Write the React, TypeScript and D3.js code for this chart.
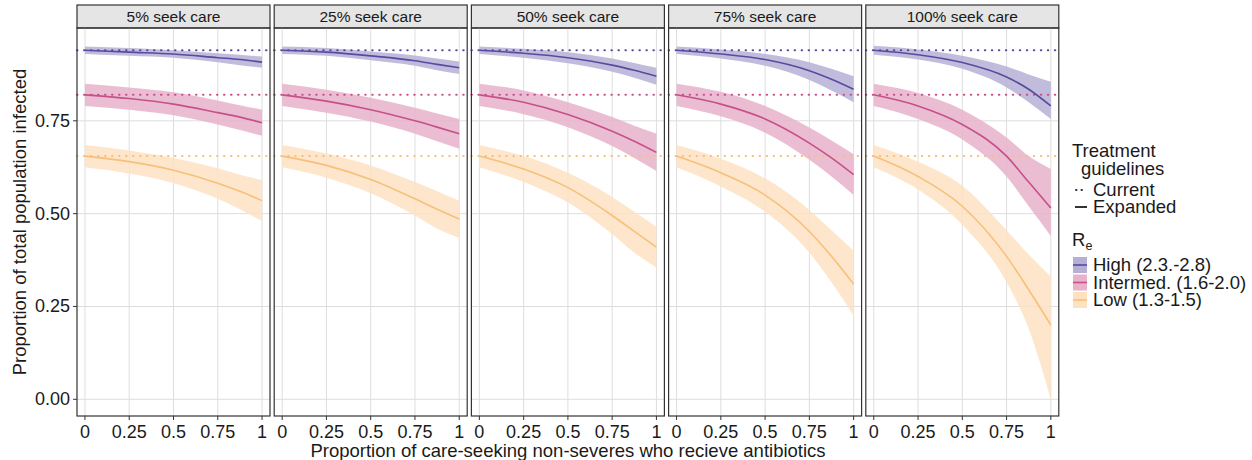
import * as React from 'react';
import * as d3 from 'd3';

const panels = ['5% seek care', '25% seek care', '50% seek care', '75% seek care', '100% seek care'];
const xs = [0, 0.25, 0.5, 0.75, 0.875, 1];
const seriesNames = ['High (2.3.-2.8)', 'Intermed. (1.6-2.0)', 'Low (1.3-1.5)'];
const lineColors = ['#5a4a9f', '#c7508a', '#f7c07a'];
const bandColors = ['#b6b0d6', '#e8b2ca', '#fde2c2'];
const currentValues = [0.94, 0.82, 0.655];

// mean per panel, per series
const meanHigh = [
  [0.94, 0.935, 0.93, 0.92, 0.915, 0.908],
  [0.94, 0.935, 0.925, 0.912, 0.902, 0.893],
  [0.94, 0.932, 0.92, 0.9, 0.886, 0.87],
  [0.94, 0.93, 0.915, 0.885, 0.862, 0.835],
  [0.94, 0.928, 0.907, 0.868, 0.835, 0.79],
];
const meanMid = [
  [0.82, 0.81, 0.795, 0.772, 0.76, 0.745],
  [0.82, 0.803, 0.78, 0.75, 0.733, 0.715],
  [0.82, 0.8, 0.767, 0.722, 0.695, 0.665],
  [0.82, 0.795, 0.755, 0.69, 0.65, 0.605],
  [0.82, 0.79, 0.74, 0.655, 0.585, 0.515],
];
const meanLow = [
  [0.655, 0.64, 0.617, 0.582, 0.56, 0.535],
  [0.655, 0.63, 0.592, 0.54, 0.512, 0.485],
  [0.655, 0.62, 0.57, 0.495, 0.452, 0.41],
  [0.655, 0.61, 0.55, 0.452, 0.385, 0.31],
  [0.655, 0.6, 0.52, 0.385, 0.295, 0.2],
];
// band lower / upper
const loHigh = [
  [0.93, 0.925, 0.92, 0.908, 0.9, 0.893],
  [0.93, 0.925, 0.913, 0.898, 0.886, 0.876],
  [0.93, 0.92, 0.905, 0.882, 0.866, 0.847],
  [0.93, 0.918, 0.898, 0.86, 0.832, 0.8],
  [0.928, 0.915, 0.89, 0.84, 0.8, 0.755],
];
const hiHigh = [
  [0.95, 0.946, 0.94, 0.932, 0.928, 0.923],
  [0.95, 0.946, 0.937, 0.926, 0.918, 0.91],
  [0.95, 0.944, 0.935, 0.918, 0.906, 0.893],
  [0.95, 0.942, 0.93, 0.908, 0.89, 0.87],
  [0.952, 0.942, 0.925, 0.896, 0.875, 0.855],
];
const loMid = [
  [0.79, 0.78, 0.765, 0.74, 0.725, 0.71],
  [0.79, 0.772, 0.748, 0.715, 0.695, 0.675],
  [0.79, 0.768, 0.733, 0.682, 0.65, 0.615],
  [0.79, 0.762, 0.718, 0.645, 0.6, 0.55],
  [0.79, 0.755, 0.7, 0.6, 0.52, 0.44],
];
const hiMid = [
  [0.85, 0.84, 0.827, 0.805, 0.792, 0.78],
  [0.85, 0.834, 0.812, 0.785, 0.77, 0.755],
  [0.85, 0.832, 0.8, 0.76, 0.737, 0.715],
  [0.85, 0.828, 0.79, 0.732, 0.697, 0.66],
  [0.85, 0.825, 0.78, 0.705, 0.655, 0.62],
];
const loLow = [
  [0.625, 0.608, 0.582, 0.54, 0.512, 0.48],
  [0.625, 0.597, 0.555, 0.495, 0.46, 0.435],
  [0.625, 0.585, 0.53, 0.445, 0.395, 0.355],
  [0.625, 0.573, 0.505, 0.395, 0.315, 0.225],
  [0.625, 0.565, 0.47, 0.315, 0.19, 0.0],
];
const hiLow = [
  [0.685, 0.67, 0.65, 0.622, 0.605, 0.59],
  [0.685, 0.662, 0.63, 0.585, 0.56, 0.535],
  [0.685, 0.655, 0.61, 0.545, 0.505, 0.465],
  [0.685, 0.648, 0.595, 0.51, 0.455, 0.4],
  [0.685, 0.64, 0.575, 0.455, 0.39, 0.33],
];

const xTicks = [0, 0.25, 0.5, 0.75, 1];
const xTickLabels = ['0', '0.25', '0.5', '0.75', '1'];
const yTicks = [0, 0.25, 0.5, 0.75];
const yTickLabels = ['0.00', '0.25', '0.50', '0.75'];

const W = 1252;
const H = 460;
const font = 'Liberation Sans, Arial, sans-serif';

export default function App() {
  const panelLeft0 = 77;
  const panelW = 193;
  const panelGap = 4.2;
  const stripTop = 5;
  const stripH = 23;
  const plotTop = stripTop + stripH;
  const plotBottom = 416;

  const y = d3.scaleLinear().domain([-0.045, 1.0]).range([plotBottom, plotTop]);
  const means = [meanHigh, meanMid, meanLow];
  const los = [loHigh, loMid, loLow];
  const his = [hiHigh, hiMid, hiLow];

  return (
    <svg width={W} height={H} style={{ display: 'block', position: 'absolute', left: 0, top: 0 }} fontFamily={font}>
      <rect width={W} height={H} fill="#fff" />
      {panels.map((p, pi) => {
        const left = panelLeft0 + pi * (panelW + panelGap);
        const x = d3.scaleLinear().domain([-0.045, 1.045]).range([left, left + panelW]);
        const area = d3
          .area<number>()
          .x((_, i) => x(xs[i]))
          .curve(d3.curveMonotoneX);
        const line = d3
          .line<number>()
          .x((_, i) => x(xs[i]))
          .y((d) => y(d))
          .curve(d3.curveMonotoneX);
        return (
          <g key={p}>
            <rect x={left} y={stripTop} width={panelW} height={stripH} fill="#e5e5e5" stroke="#333" strokeWidth={1.2} />
            <text x={left + panelW / 2} y={stripTop + stripH / 2 + 5.5} textAnchor="middle" fontSize={15.5} fill="#1a1a1a">
              {p}
            </text>
            {xTicks.map((t) => (
              <line key={'gx' + t} x1={x(t)} x2={x(t)} y1={plotTop} y2={plotBottom} stroke="#dedede" strokeWidth={1} />
            ))}
            {yTicks.map((t) => (
              <line key={'gy' + t} x1={left} x2={left + panelW} y1={y(t)} y2={y(t)} stroke="#dedede" strokeWidth={1} />
            ))}
            {[2, 1, 0].map((si) => (
              <path
                key={'b' + si}
                d={area.y0((_, i) => y(los[si][pi][i])).y1((_, i) => y(his[si][pi][i]))(xs) || ''}
                fill={bandColors[si]}
                opacity={0.85}
              />
            ))}
            {[0, 1, 2].map((si) => (
              <line
                key={'c' + si}
                x1={left}
                x2={left + panelW}
                y1={y(currentValues[si])}
                y2={y(currentValues[si])}
                stroke={lineColors[si]}
                strokeWidth={2}
                strokeDasharray="0.5 6.5"
                strokeLinecap="round"
              />
            ))}
            {[0, 1, 2].map((si) => (
              <path key={'l' + si} d={line(means[si][pi]) || ''} fill="none" stroke={lineColors[si]} strokeWidth={1.6} />
            ))}
            <rect x={left} y={plotTop} width={panelW} height={plotBottom - plotTop} fill="none" stroke="#333" strokeWidth={1.2} />
            {xTicks.map((t, i) => (
              <g key={'xt' + t}>
                <line x1={x(t)} x2={x(t)} y1={plotBottom} y2={plotBottom + 4} stroke="#333" />
                <text x={x(t)} y={plotBottom + 22} textAnchor="middle" fontSize={18} fill="#1a1a1a">
                  {xTickLabels[i]}
                </text>
              </g>
            ))}
          </g>
        );
      })}
      {yTicks.map((t, i) => (
        <g key={'yt' + t}>
          <line x1={panelLeft0 - 4} x2={panelLeft0} y1={y(t)} y2={y(t)} stroke="#333" />
          <text x={panelLeft0 - 7} y={y(t) + 6} textAnchor="end" fontSize={18} fill="#1a1a1a">
            {yTickLabels[i]}
          </text>
        </g>
      ))}
      <text x={568} y={457} textAnchor="middle" fontSize={18.5} fill="#1a1a1a">
        Proportion of care-seeking non-severes who recieve antibiotics
      </text>
      <text transform={`translate(26,${(plotTop + plotBottom) / 2}) rotate(-90)`} textAnchor="middle" fontSize={18.5} fill="#1a1a1a">
        Proportion of total population infected
      </text>
      {/* legend */}
      <g fontSize={18.5} fill="#1a1a1a">
        <text x={1072} y={157}>Treatment</text>
        <text x={1081} y={175}>guidelines</text>
        <line x1={1076} x2={1086} y1={190} y2={190} stroke="#333" strokeWidth={2} strokeDasharray="0.5 5" strokeLinecap="round" />
        <text x={1093} y={196}>Current</text>
        <line x1={1075} x2={1087} y1={207} y2={207} stroke="#333" strokeWidth={2} />
        <text x={1093} y={213}>Expanded</text>
        <text x={1072} y={246}>
          R<tspan fontSize={12.5} dy={4}>e</tspan>
        </text>
        {seriesNames.map((s, i) => (
          <g key={s}>
            <rect x={1073} y={257 + i * 17.5} width={14} height={16} fill={bandColors[i]} />
            <line x1={1073} x2={1087} y1={265 + i * 17.5} y2={265 + i * 17.5} stroke={lineColors[i]} strokeWidth={1.6} />
            <text x={1093} y={271 + i * 17.5}>{s}</text>
          </g>
        ))}
      </g>
    </svg>
  );
}
